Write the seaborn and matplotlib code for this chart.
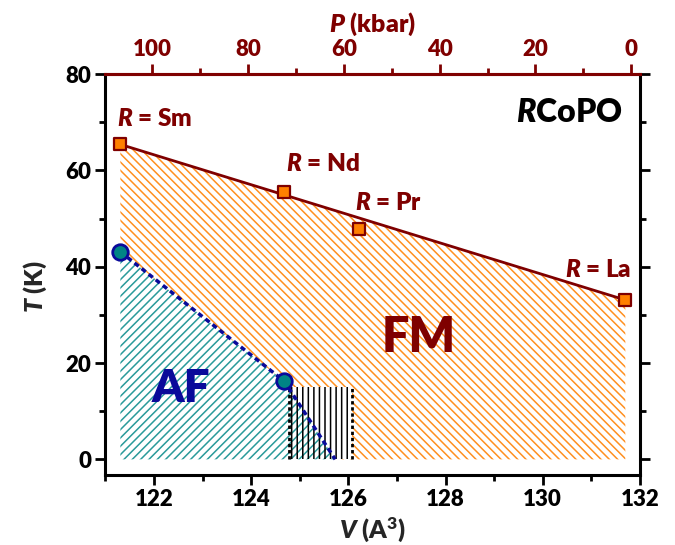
import numpy as np
import pandas as pd
import matplotlib
matplotlib.use("Agg")
import matplotlib.pyplot as plt
import seaborn as sns
from matplotlib.patches import Rectangle
from matplotlib.ticker import MultipleLocator

# ---------------- data ----------------
compounds = ["Sm", "Nd", "Pr", "La"]
fm_V = [121.31, 124.68, 126.22, 131.70]      # unit-cell volume (A^3)
fm_T = [65.4, 55.6, 47.9, 33.1]              # ferromagnetic T_C (K)
fm_line_V = [121.31, 131.70]
fm_line_T = [65.4, 33.1]
af_V = [121.31, 124.68]
af_T = [43.1, 16.25]                         # antiferromagnetic T_N (K)
af_line_V = [121.31, 124.68, 125.73]
af_line_T = [43.1, 16.25, 0.0]
mix_V = [124.78, 126.07]                     # mixed region
mix_T = [0.0, 15.0]
V_ticks = [122, 124, 126, 128, 130, 132]
T_ticks = [0, 20, 40, 60, 80]
P_ticks = [0, 20, 40, 60, 80, 100]
V_at_P0 = 131.82      # volume at P = 0 kbar
V_per_kbar = 0.0985   # compression per kbar

# ---------------- style ----------------
sns.set_theme(style="ticks")
plt.rcParams["font.family"] = ["Lato", "DejaVu Sans"]
plt.rcParams["font.weight"] = "heavy"
plt.rcParams["mathtext.fontset"] = "custom"
plt.rcParams["mathtext.rm"] = "Lato:heavy"
plt.rcParams["mathtext.it"] = "Lato:heavy:italic"
plt.rcParams["mathtext.bf"] = "Lato:heavy"
plt.rcParams["hatch.linewidth"] = 1.1

W = "heavy"
darkred = "#7f0000"
orange = "#ff8000"
orange_h = "#ff9020"
teal_h = "#2a9a9a"
teal = "#008585"
navy = "#0a0a9a"

fig, ax = plt.subplots(figsize=(6.75, 5.45), dpi=100)
fig.subplots_adjust(left=0.156, right=0.948, bottom=0.128, top=0.864)

# FM region (orange hatch)
fm_poly = list(zip(fm_line_V, fm_line_T)) + [(fm_line_V[-1], 0.0)] + list(zip(af_line_V, af_line_T))[::-1]
px, py = zip(*fm_poly)
ax.fill(px, py, facecolor="none", edgecolor=orange_h, lw=0, hatch="\\\\\\\\", zorder=1)

# mixed region background
w = mix_V[1] - mix_V[0]
h = mix_T[1] - mix_T[0]
ax.add_patch(Rectangle((mix_V[0], mix_T[0]), w, h, facecolor="white", lw=0, zorder=1.5))

# AF region (teal hatch)
af_poly = [(af_line_V[0], 0.0)] + list(zip(af_line_V, af_line_T))
ax_, ay_ = zip(*af_poly)
ax.fill(ax_, ay_, facecolor="none", edgecolor=teal_h, lw=0, hatch="////", zorder=2)

# mixed region hatch
ax.add_patch(Rectangle((mix_V[0], mix_T[0]), w, h, facecolor="none", edgecolor="black",
                       lw=0, hatch="|||", zorder=2.5))
ax.vlines(mix_V, mix_T[0], mix_T[1], colors="black", linestyles=(0, (1.2, 1.0)), lw=2, zorder=3)

# lines
sns.lineplot(x=fm_line_V, y=fm_line_T, color=darkred, lw=2, ax=ax, zorder=4)
sns.lineplot(x=af_line_V, y=af_line_T, color=navy, lw=2.5, linestyle=(0, (1.5, 1.1)), ax=ax, zorder=4)

# points
sns.scatterplot(x=fm_V, y=fm_T, marker="s", s=85, color=orange, edgecolor=darkred,
                linewidth=1.6, ax=ax, zorder=5)
sns.scatterplot(x=af_V, y=af_T, marker="o", s=125, color=teal, edgecolor=navy,
                linewidth=2, ax=ax, zorder=5)

# labels for compounds
lab_kw = dict(color=darkred, fontsize=17.5, fontweight=W, va="center")
ax.text(121.24, 70.6, r"$R$ = " + compounds[0], ha="left", **lab_kw)
ax.text(124.72, 61.3, r"$R$ = " + compounds[1], ha="left", **lab_kw)
ax.text(126.13, 53.3, r"$R$ = " + compounds[2], ha="left", **lab_kw)
ax.text(131.82, 39.4, r"$R$ = " + compounds[3], ha="right", **lab_kw)
ax.text(131.64, 72.0, r"$R$CoPO", ha="right", va="center", color="black", fontsize=23, fontweight=W)
ax.text(127.45, 25.3, "FM", ha="center", va="center", color=darkred, fontsize=35, fontweight=W)
ax.text(122.55, 14.8, "AF", ha="center", va="center", color=navy, fontsize=33, fontweight=W)

# axes
ax.set_xlim(121, 132)
ax.set_ylim(-3.3, 80)
ax.set_xticks(V_ticks)
ax.set_yticks(T_ticks)
ax.xaxis.set_minor_locator(MultipleLocator(1))
ax.yaxis.set_minor_locator(MultipleLocator(10))
ax.tick_params(which="both", direction="out", width=2, right=True, top=False,
               labelsize=16, colors="black")
ax.tick_params(which="major", length=7, pad=3)
ax.tick_params(which="minor", length=4)
for lab in ax.get_xticklabels() + ax.get_yticklabels():
    lab.set_fontweight(W)
for s in ["left", "bottom", "right"]:
    ax.spines[s].set_linewidth(2.2)
    ax.spines[s].set_color("black")
ax.spines["top"].set_color(darkred)
ax.spines["top"].set_linewidth(2.2)

ax.set_xlabel(r"$V$ (A$^{3}$)", fontsize=18, fontweight=W)
ax.set_ylabel(r"$T$ (K)", fontsize=18, fontweight=W)
ax.xaxis.set_label_coords(0.5, -0.1)
ax.yaxis.set_label_coords(-0.105, 0.47)


def v2p(v):
    return (V_at_P0 - np.asarray(v)) / V_per_kbar


def p2v(p):
    return V_at_P0 - np.asarray(p) * V_per_kbar


sec = ax.secondary_xaxis("top", functions=(v2p, p2v))
sec.set_xticks(P_ticks)
sec.xaxis.set_minor_locator(MultipleLocator(10))
sec.tick_params(which="both", direction="out", width=2, colors=darkred, labelsize=16)
sec.tick_params(which="major", length=7, pad=3)
sec.tick_params(which="minor", length=4)
for lab in sec.get_xticklabels():
    lab.set_fontweight(W)
sec.spines["top"].set_color(darkred)
sec.spines["top"].set_linewidth(2.2)
sec.set_xlabel(r"$P$ (kbar)", fontsize=18, fontweight=W, color=darkred, labelpad=5)

fig.savefig("out.png", dpi=100)
